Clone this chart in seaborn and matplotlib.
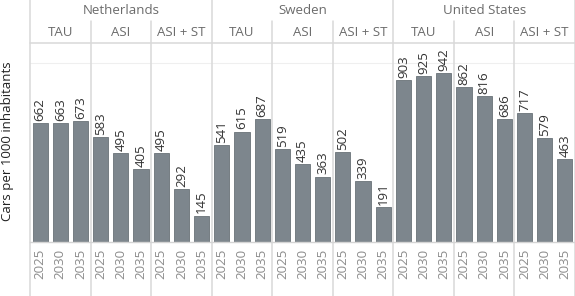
import numpy as np
import pandas as pd
import matplotlib
matplotlib.use("Agg")
import matplotlib.pyplot as plt
import seaborn as sns
from matplotlib.lines import Line2D
from matplotlib.transforms import blended_transform_factory

countries = ["Netherlands", "Sweden", "United States"]
scenarios = ["TAU", "ASI", "ASI + ST"]
years = ["2025", "2030", "2035"]

netherlands = [662, 663, 673, 583, 495, 405, 495, 292, 145]
sweden = [541, 615, 687, 519, 435, 363, 502, 339, 191]
united_states = [903, 925, 942, 862, 816, 686, 717, 579, 463]

rows = []
for country, vals in zip(countries, [netherlands, sweden, united_states]):
    for i, v in enumerate(vals):
        sc = scenarios[i // 3]
        yr = years[i % 3]
        rows.append({"country": country, "scenario": sc, "year": yr,
                     "key": country + "|" + sc + "|" + yr, "value": v})
df = pd.DataFrame(rows)

sns.set_style("white")
plt.rcParams["font.family"] = ["Open Sans", "DejaVu Sans"]

W, H = 575, 296
fig = plt.figure(figsize=(W / 100, H / 100), dpi=100)
left_px, top_px, bottom_px = 30, 43, 241.5
ax = fig.add_axes([left_px / W, (H - bottom_px) / H, (W - left_px) / W,
                   (bottom_px - top_px) / H])

bar_color = "#7d868d"
sns.barplot(data=df, x="key", y="value", order=list(df["key"]), color=bar_color,
            width=0.75, edgecolor="#6a7278", linewidth=0.6, saturation=1, ax=ax)

ax.set_xlim(-0.5, len(df) - 0.5)
ax.set_ylim(0, 1111)
ax.set_yticks([])
ax.set_xlabel("")
ax.set_ylabel("")
for s in ["top", "right", "left"]:
    ax.spines[s].set_visible(False)
ax.spines["bottom"].set_color("#d4d4d4")
ax.spines["bottom"].set_linewidth(1)
ax.axhline(1000, color="#efefef", lw=0.8, zorder=0)

ax.set_xticks(range(len(df)))
ax.set_xticklabels(list(df["year"]), rotation=90, color="#8c8c8c", fontsize=9.5)
ax.tick_params(axis="x", length=0, pad=5)

for i, v in enumerate(df["value"]):
    ax.text(i, v + 12, str(v), rotation=90, ha="center", va="bottom",
            fontsize=9.5, color="#333333")

# separators and headers
tr = blended_transform_factory(ax.transData, fig.transFigure)
line_c = "#d9d9d9"
for k in range(10):
    x = -0.5 + 3 * k
    if k % 3 == 0:
        y0 = 1.0
    else:
        y0 = (H - 21) / H
    ax.add_line(Line2D([x, x], [0, y0], transform=tr, color=line_c, lw=1.1, clip_on=False))
ax.add_line(Line2D([-0.5, len(df) - 0.5], [(H - top_px) / H] * 2, transform=tr,
                   color=line_c, lw=1.1, clip_on=False))

for c, country in enumerate(countries):
    ax.text(c * 9 + 4, (H - 11) / H, country, transform=tr, ha="center", va="center",
            fontsize=9.5, color="#6b6b6b")
    for s, sc in enumerate(scenarios):
        ax.text(c * 9 + s * 3 + 1, (H - 32) / H, sc, transform=tr, ha="center",
                va="center", fontsize=9.5, color="#6b6b6b")

fig.text(8 / W, (H - 141) / H, "Cars per 1000 inhabitants", rotation=90,
         ha="center", va="center", fontsize=9.5, color="#222222")

fig.savefig("out.png", dpi=100)
